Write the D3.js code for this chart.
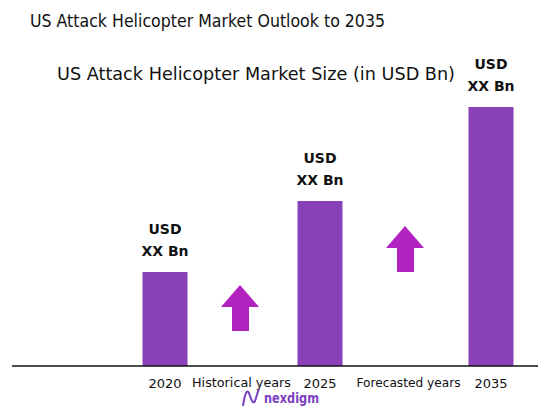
<!DOCTYPE html>
<html><head><meta charset="utf-8">
<script src="https://cdn.jsdelivr.net/npm/d3@7"></script>
<style>body{margin:0;background:#fff}svg{display:block}</style>
</head><body><svg id="c" width="555" height="411"></svg>
<script>
const categories = ["2020","2025","2035"];
const values = [94,165,259];
const valueLabels = ["USD","XX Bn"];
const gapLabels = ["Historical years","Forecasted years"];
const title = "US Attack Helicopter Market Outlook to 2035";
const subtitle = "US Attack Helicopter Market Size (in USD Bn)";

const svg = d3.select("#c");
const font = "'DejaVu Sans', sans-serif";
const base = 366;
const x = d3.scaleLinear().domain([0,2,4]).range([165,320,491]);
const y = d3.scaleLinear().domain([0,280]).range([base,86]);
const bw = 45;

svg.append("text").attr("x",30).attr("y",27).attr("font-family",font).attr("font-size",17).attr("fill","#111")
  .attr("textLength",355).attr("lengthAdjust","spacingAndGlyphs").text(title);
svg.append("text").attr("x",57).attr("y",80).attr("font-family",font).attr("font-size",17).attr("fill","#111")
  .attr("textLength",398).attr("lengthAdjust","spacingAndGlyphs").text(subtitle);

svg.selectAll("rect.bar").data(values).join("rect").attr("class","bar")
  .attr("x",(d,i)=>x(i*2)-bw/2).attr("width",bw)
  .attr("y",d=>y(d)).attr("height",d=>base-y(d)).attr("fill","#8a41b8");

values.forEach((d,i)=>{
  valueLabels.forEach((t,j)=>{
    svg.append("text").attr("x",x(i*2)).attr("y",y(d)-38+j*22).attr("text-anchor","middle")
      .attr("font-family",font).attr("font-weight",700).attr("font-size",14).attr("fill","#111").text(t);
  });
});

svg.append("line").attr("x1",12).attr("x2",538).attr("y1",base).attr("y2",base).attr("stroke","#111").attr("stroke-width",1.5);

categories.forEach((c,i)=>{
  svg.append("text").attr("x",x(i*2)).attr("y",base+22).attr("text-anchor","middle")
    .attr("font-family",font).attr("font-size",13).attr("fill","#111").text(c);
});
gapLabels.forEach((t,i)=>{
  svg.append("text").attr("x",x(i*2+1)+(i?3:-1)).attr("y",base+21).attr("text-anchor","middle")
    .attr("font-family",font).attr("font-size",12).attr("fill","#111")
    .attr("textLength",i?104:99).attr("lengthAdjust","spacingAndGlyphs").text(t);
});

function arrow(cx, tip){
  const p = [[cx,tip],[cx+19,tip+22],[cx+9,tip+22],[cx+9,tip+46],[cx-8,tip+46],[cx-8,tip+22],[cx-19,tip+22]];
  svg.append("path").attr("d","M"+p.join("L")+"Z").attr("fill","#b222c0");
}
arrow(240,285);
arrow(405,226);

const lg = svg.append("g");
lg.append("path").attr("d","M243,406 C245,393 247,389 249,393 C251,399 253,405 255,401 C257,395 258,391 259,389")
  .attr("fill","none").attr("stroke","#7a3fc0").attr("stroke-width",2);
lg.append("text").attr("x",264).attr("y",403).attr("font-family",font).attr("font-weight",600).attr("font-size",14).attr("fill","#7b3fbf")
  .attr("textLength",55).attr("lengthAdjust","spacingAndGlyphs").text("nexdigm");
</script></body></html>
